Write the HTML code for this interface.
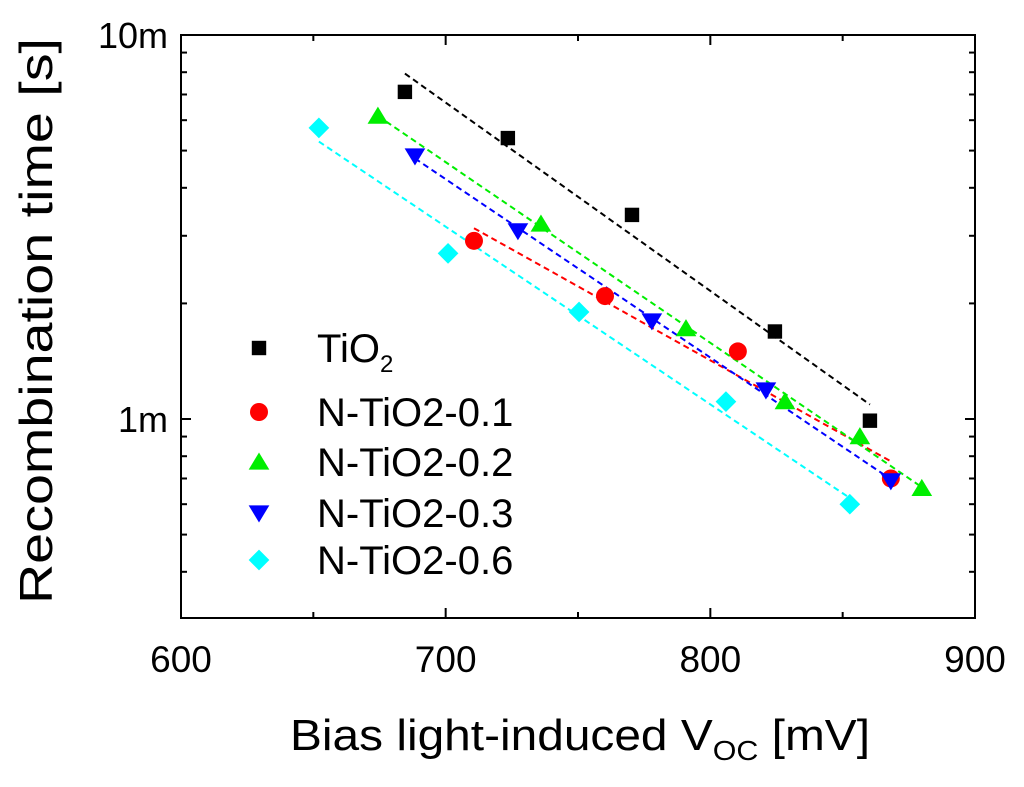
<!DOCTYPE html>
<html><head><meta charset="utf-8"><style>
body{margin:0;background:#fff;}
svg text{font-family:"Liberation Sans",Arial,sans-serif;fill:#000;}
</style></head><body>
<svg width="1024" height="782" viewBox="0 0 1024 782">
<g id="marks"></g>
<rect x="181" y="35" width="794" height="583" fill="none" stroke="#000" stroke-width="2"/>
<g id="axes"></g>
<text transform="translate(52,321) rotate(-90)" text-anchor="middle" font-size="46" textLength="566" lengthAdjust="spacingAndGlyphs">Recombination time [s]</text>
<text x="290" y="750" font-size="44" textLength="580" lengthAdjust="spacingAndGlyphs">Bias light-induced V<tspan font-size="28" dy="10">OC</tspan><tspan dy="-10"> [mV]</tspan></text>
<g id="legend"></g>
</svg>
<script>
const xTicks=[600,700,800,900];
const yTickVals=[0.001,0.01];
const yTickLabels=["1m","10m"];
const names=["TiO2","N-TiO2-0.1","N-TiO2-0.2","N-TiO2-0.3","N-TiO2-0.6"];
const colors=["#000000","#ff0000","#00ee00","#0000ff","#00ffff"];
const shapes=["square","circle","up","down","diamond"];
const x0=[684.6,723.5,770.4,824.4,860.3];
const y0=[7.11e-3,5.39e-3,3.40e-3,1.69e-3,0.99e-3];
const x1=[710.7,760.2,810.4,868.2];
const y1=[2.91e-3,2.09e-3,1.50e-3,0.70e-3];
const x2=[674.4,736.0,790.8,828.2,856.5,879.9];
const y2=[6.15e-3,3.22e-3,1.72e-3,1.11e-3,0.90e-3,0.66e-3];
const x3=[688.4,727.3,777.9,821.0,868.2];
const y3=[4.84e-3,3.09e-3,1.80e-3,1.19e-3,0.69e-3];
const x4=[652.1,700.9,750.4,805.9,852.7];
const y4=[5.73e-3,2.70e-3,1.90e-3,1.11e-3,0.60e-3];
const XS=[x0,x1,x2,x3,x4], YS=[y0,y1,y2,y3,y4];
const NS="http://www.w3.org/2000/svg";
function X(v){return 181+(v-600)*794/300;}
function Y(v){return 35+(-2-Math.log10(v))*384;}
function mk(tag,at,parent){const e=document.createElementNS(NS,tag);for(const k in at)e.setAttribute(k,at[k]);parent.appendChild(e);return e;}
function marker(shape,cx,cy,col,parent,s){
  let e;
  if(shape==="square")e=mk("rect",{x:cx-s*0.8,y:cy-s*0.8,width:s*1.6,height:s*1.6,fill:col},parent);
  else if(shape==="circle")e=mk("circle",{cx:cx,cy:cy,r:s,fill:col},parent);
  else if(shape==="up")e=mk("polygon",{points:`${cx},${cy-s*1.05} ${cx-s*1.15},${cy+s*0.85} ${cx+s*1.15},${cy+s*0.85}`,fill:col},parent);
  else if(shape==="down")e=mk("polygon",{points:`${cx},${cy+s*1.05} ${cx-s*1.15},${cy-s*0.85} ${cx+s*1.15},${cy-s*0.85}`,fill:col},parent);
  else e=mk("polygon",{points:`${cx},${cy-s*1.15} ${cx+s*1.15},${cy} ${cx},${cy+s*1.15} ${cx-s*1.15},${cy}`,fill:col},parent);
  return e;
}
const marks=document.getElementById("marks");
for(let i=0;i<5;i++){
  const xs=XS[i],ys=YS[i].map(v=>Math.log10(v));
  const n=xs.length,mx=xs.reduce((a,b)=>a+b)/n,my=ys.reduce((a,b)=>a+b)/n;
  let sxy=0,sxx=0;for(let j=0;j<n;j++){sxy+=(xs[j]-mx)*(ys[j]-my);sxx+=(xs[j]-mx)**2;}
  const b=sxy/sxx,a=my-b*mx;
  const xa=Math.min(...xs),xb=Math.max(...xs);
  const l=mk("line",{x1:X(xa),y1:Y(10**(a+b*xa)),x2:X(xb),y2:Y(10**(a+b*xb)),stroke:colors[i],"stroke-width":2,"stroke-dasharray":"6,4"},marks);
  
  
}
for(let i=0;i<5;i++){
  for(let j=0;j<XS[i].length;j++){
    const m=marker(shapes[i],X(XS[i][j]),Y(YS[i][j]),colors[i],marks,9);
    
    
  }
}
const axes=document.getElementById("axes");
for(let v=600;v<=900;v+=50){
  const major=(v%100===0),len=major?10:6;
  mk("line",{x1:X(v),y1:618,x2:X(v),y2:618-len,stroke:"#000","stroke-width":2},axes);
  mk("line",{x1:X(v),y1:35,x2:X(v),y2:35+len,stroke:"#000","stroke-width":2},axes);
}
xTicks.forEach(v=>{const t=mk("text",{x:X(v),y:672,"text-anchor":"middle","font-size":37},axes);t.textContent=v;

});
for(let d=-4;d<=-2;d++){for(let k=1;k<10;k++){const v=k*10**d,y=Y(v);if(y<35||y>618)continue;
  const len=k===1?10:6;
  mk("line",{x1:181,y1:y,x2:181+len,y2:y,stroke:"#000","stroke-width":2},axes);
  mk("line",{x1:975,y1:y,x2:975-len,y2:y,stroke:"#000","stroke-width":2},axes);}}
yTickVals.forEach((v,i)=>{const t=mk("text",{x:168,y:Y(v)+13,"text-anchor":"end","font-size":36},axes);t.textContent=yTickLabels[i];

});
const lg=document.getElementById("legend");
const rows=[348,412,462,513,560];
for(let i=0;i<5;i++){
  const m=marker(shapes[i],259,rows[i],colors[i],lg,9);
  
  
  const t=mk("text",{x:317,y:rows[i]+14,"font-size":40},lg);
  if(i===0){t.innerHTML='TiO<tspan font-size="24" dy="10">2</tspan>';}else t.textContent=names[i];
  
  
}
</script>
</body></html>
